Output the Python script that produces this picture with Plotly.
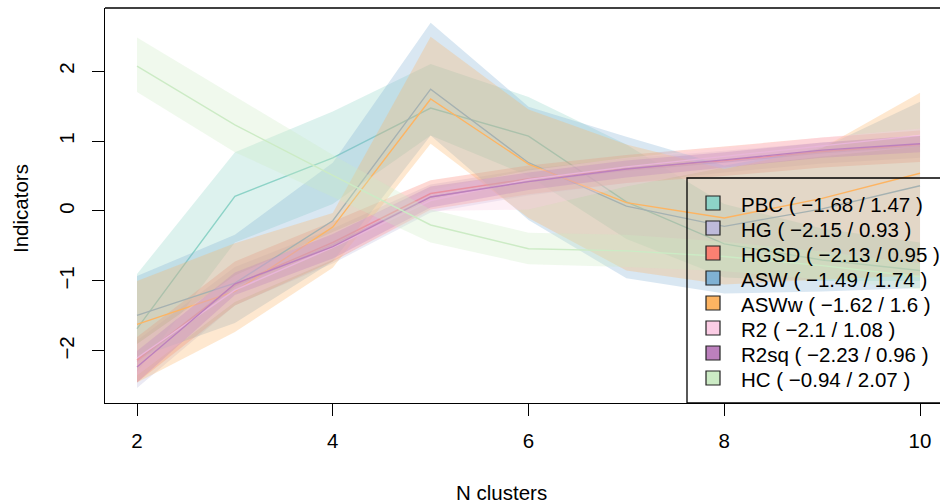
import plotly.graph_objects as go

# Number of clusters evaluated
n_clusters = [2, 3, 4, 5, 6, 7, 8, 9, 10]

# Standardized cluster-quality indicators: value, lower and upper band
pbc = [-1.68, 0.21, 0.76, 1.47, 1.07, 0.13, -0.47, -0.70, -0.85]
pbc_lo = [-2.30, -0.45, 0.10, 1.08, 0.50, -0.40, -0.95, -1.00, -1.00]
pbc_hi = [-0.90, 0.84, 1.42, 2.10, 1.63, 0.95, 0.10, -0.25, -0.45]

hg = [-2.15, -1.07, -0.48, 0.20, 0.42, 0.58, 0.70, 0.83, 0.93]
hg_lo = [-2.53, -1.35, -0.75, -0.02, 0.22, 0.40, 0.55, 0.68, 0.76]
hg_hi = [-1.85, -0.80, -0.25, 0.38, 0.60, 0.75, 0.86, 0.98, 1.08]

hgsd = [-2.13, -1.05, -0.45, 0.25, 0.46, 0.60, 0.72, 0.85, 0.95]
hgsd_lo = [-2.45, -1.35, -0.72, 0.02, 0.24, 0.40, 0.50, 0.62, 0.70]
hgsd_hi = [-1.80, -0.72, -0.15, 0.44, 0.65, 0.80, 0.92, 1.05, 1.15]

asw = [-1.49, -1.03, -0.14, 1.74, 0.69, 0.07, -0.22, 0.03, 0.36]
asw_lo = [-2.10, -1.60, -0.72, 1.08, -0.13, -0.96, -1.18, -1.15, -1.10]
asw_hi = [-0.93, -0.34, 0.69, 2.69, 1.49, 1.06, 0.65, 0.90, 1.56]

asww = [-1.62, -1.15, -0.23, 1.60, 0.67, 0.12, -0.10, 0.18, 0.54]
asww_lo = [-2.45, -1.73, -0.81, 0.96, -0.10, -0.85, -1.05, -0.98, -0.92]
asww_hi = [-1.00, -0.46, -0.03, 2.49, 1.45, 0.95, 0.60, 0.90, 1.69]

r2 = [-2.10, -1.13, -0.52, 0.15, 0.45, 0.63, 0.78, 0.93, 1.08]
r2_lo = [-2.35, -1.30, -0.70, 0.00, 0.02, 0.35, 0.62, 0.78, 0.92]
r2_hi = [-1.90, -0.92, -0.30, 0.30, 0.58, 0.76, 0.90, 1.05, 1.18]

r2sq = [-2.23, -1.04, -0.51, 0.20, 0.42, 0.60, 0.73, 0.87, 0.96]
r2sq_lo = [-2.45, -1.20, -0.68, 0.05, 0.30, 0.48, 0.62, 0.76, 0.84]
r2sq_hi = [-2.00, -0.88, -0.33, 0.35, 0.55, 0.72, 0.84, 0.98, 1.08]

hc = [2.07, 1.23, 0.51, -0.20, -0.54, -0.57, -0.65, -0.78, -0.94]
hc_lo = [1.70, 0.84, 0.20, -0.45, -0.76, -0.80, -0.86, -0.98, -1.12]
hc_hi = [2.48, 1.64, 0.80, 0.02, -0.31, -0.34, -0.44, -0.58, -0.75]

names = ["PBC", "HG", "HGSD", "ASW", "ASWw", "R2", "R2sq", "HC"]
values = [pbc, hg, hgsd, asw, asww, r2, r2sq, hc]
lowers = [pbc_lo, hg_lo, hgsd_lo, asw_lo, asww_lo, r2_lo, r2sq_lo, hc_lo]
uppers = [pbc_hi, hg_hi, hgsd_hi, asw_hi, asww_hi, r2_hi, r2sq_hi, hc_hi]
colors = ["#8DD3C7", "#BEBADA", "#FB8072", "#80B1D3",
          "#FDB462", "#FCCDE5", "#BC80BD", "#CCEBC5"]

x_ticks = [2, 4, 6, 8, 10]
y_ticks = [-2, -1, 0, 1, 2]

FONT = "Liberation Sans, Arial, Helvetica, sans-serif"
FS = 20.5


def rgba(hex_color, alpha):
    h = hex_color.lstrip("#")
    r, g, b = int(h[0:2], 16), int(h[2:4], 16), int(h[4:6], 16)
    return f"rgba({r},{g},{b},{alpha})"


def fmt(v):
    return str(round(v, 2)).replace("-", "\u2212")


# Pixel geometry of the plotting region
x0_px, x1_px = 105, 940
y0_px, y1_px = 8, 403
xr = [1.673, 10.204]
yr = [-2.743, 2.9]


def px_to_paper_x(px):
    return (px - x0_px) / (x1_px - x0_px)


def px_to_paper_y(py):
    return (y1_px - py) / (y1_px - y0_px)


fig = go.Figure()

# Each indicator: shaded band first, then its line on top
for name, vals, lo, hi, col in zip(names, values, lowers, uppers, colors):
    fig.add_trace(go.Scatter(
        x=n_clusters + n_clusters[::-1],
        y=hi + lo[::-1],
        fill="toself", fillcolor=rgba(col, 0.3),
        line=dict(width=0), mode="lines",
        hoverinfo="skip", showlegend=False))
    fig.add_trace(go.Scatter(
        x=n_clusters, y=vals, mode="lines",
        line=dict(color=col, width=1.4),
        name=name, showlegend=False))

# Legend: framed box anchored at the bottom-right of the plot
shapes = [
    dict(type="line", xref="paper", yref="paper",
         x0=0, x1=1.02, y0=1, y1=1,
         line=dict(color="black", width=1.3)),
    dict(type="rect", xref="paper", yref="paper",
         x0=px_to_paper_x(687), x1=1.05,
         y0=0, y1=px_to_paper_y(178),
         line=dict(color="black", width=1.3),
         fillcolor="rgba(0,0,0,0)"),
]
annotations = []
for i, (name, vals, col) in enumerate(zip(names, values, colors)):
    yc = 203 + 25 * i
    shapes.append(dict(
        type="rect", xref="paper", yref="paper",
        x0=px_to_paper_x(706), x1=px_to_paper_x(720),
        y0=px_to_paper_y(yc + 7), y1=px_to_paper_y(yc - 7),
        line=dict(color="#222222", width=1.2), fillcolor=col))
    annotations.append(dict(
        text=f"{name} ( {fmt(min(vals))} / {fmt(max(vals))} )",
        xref="paper", yref="paper",
        x=px_to_paper_x(739), y=px_to_paper_y(yc + 1),
        xanchor="left", yanchor="middle", showarrow=False,
        font=dict(family=FONT, size=FS, color="black")))

annotations += [
    dict(text="N clusters", xref="paper", yref="paper",
         x=px_to_paper_x(501), y=px_to_paper_y(492),
         xanchor="center", yanchor="middle",
         showarrow=False, font=dict(family=FONT, size=FS, color="black")),
    dict(text="Indicators", xref="paper", yref="paper",
         x=px_to_paper_x(20), y=px_to_paper_y(209),
         xanchor="center", yanchor="middle", textangle=-90,
         showarrow=False, font=dict(family=FONT, size=FS, color="black")),
]

fig.update_layout(
    width=940, height=503,
    margin=dict(l=105, r=0, t=8, b=100, pad=0),
    paper_bgcolor="white", plot_bgcolor="white",
    font=dict(family=FONT, size=FS, color="black"),
    showlegend=False,
    xaxis=dict(
        range=xr, tickvals=x_ticks, ticktext=[str(v) for v in x_ticks],
        showgrid=False, zeroline=False,
        showline=True, linecolor="black", linewidth=1.3,
        ticks="outside", ticklen=12, tickwidth=1.3, tickcolor="black",
        ticklabelstandoff=7,
        tickfont=dict(family=FONT, size=FS, color="black")),
    yaxis=dict(
        range=yr, tickvals=y_ticks,
        showgrid=False, zeroline=False,
        showline=True, linecolor="black", linewidth=1.3,
        ticks="outside", ticklen=12, tickwidth=1.3, tickcolor="black",
        tickangle=-90, ticklabelstandoff=10,
        tickfont=dict(family=FONT, size=FS, color="black")),
    shapes=shapes,
    annotations=annotations,
)

fig.write_html("out.html")
